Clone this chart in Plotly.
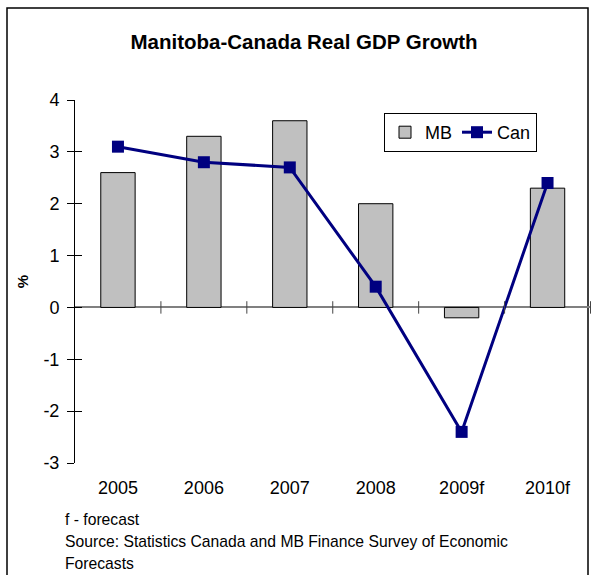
import plotly.graph_objects as go

years = ["2005", "2006", "2007", "2008", "2009f", "2010f"]
mb = [2.6, 3.3, 3.6, 2.0, -0.2, 2.3]
can = [3.1, 2.8, 2.7, 0.4, -2.4, 2.4]
y_ticks = [-3, -2, -1, 0, 1, 2, 3, 4]
y_labels = [str(v) for v in y_ticks]

W, H = 592, 575
L, R, T, B = 75, 1, 100, 112
pw, ph = W - L - R, H - T - B


def px_x(p):
    return (p - L) / pw


def px_y(p):
    return (H - B - p) / ph


fig = go.Figure()

fig.add_trace(go.Bar(x=years, y=mb, name="MB", marker_color="#C0C0C0",
                     marker_line=dict(color="black", width=1)))

# tick marks on the zero line at category boundaries (drawn under the line)
for k in range(1, len(years) + 1):
    xb = k - 0.5
    fig.add_shape(type="line", xref="x", yref="y", x0=xb, x1=xb, y0=-0.12, y1=0.12,
                  line=dict(color="#444444", width=1))

fig.add_trace(go.Scatter(x=years, y=can, name="Can", mode="lines+markers",
                         line=dict(color="#000080", width=3),
                         marker=dict(symbol="square", size=12, color="#000080")))

# ticks crossing the y axis (outside + inside)
fig.add_trace(go.Scatter(x=years, y=[None] * len(years), yaxis="y2", showlegend=False,
                         hoverinfo="skip"))

fig.update_layout(
    width=W, height=H,
    margin=dict(l=L, r=R, t=T, b=B, autoexpand=False),
    paper_bgcolor="white", plot_bgcolor="white",
    font=dict(family="Liberation Sans, Arial", size=18, color="black"),
    title=dict(text="<b>Manitoba-Canada Real GDP Growth</b>", x=304 / W, xanchor="center",
               y=1 - 42 / H, yanchor="middle", font=dict(size=20.5)),
    bargap=0.6,
    showlegend=True,
    legend=dict(orientation="h", x=px_x(384), y=px_y(113), xanchor="left", yanchor="top",
                bordercolor="black", borderwidth=1, bgcolor="white",
                font=dict(size=18), itemwidth=30, tracegroupgap=0),
    xaxis=dict(showgrid=False, showline=False, ticks="", ticklabelstandoff=12,
               tickfont=dict(size=18), automargin=False),
    yaxis=dict(range=[-3, 4], tickvals=y_ticks, ticktext=y_labels, showgrid=False,
               showline=True, linecolor="black", linewidth=1, ticks="outside", ticklen=7,
               tickcolor="black", ticklabelstandoff=4, automargin=False,
               zeroline=True, zerolinecolor="#808080", zerolinewidth=1.5,
               title=dict(text="<b>%</b>", standoff=11, font=dict(size=15))),
    yaxis2=dict(range=[-3, 4], tickvals=y_ticks, overlaying="y", side="left",
                showgrid=False, zeroline=False, showline=False, ticks="inside",
                ticklen=7, tickcolor="black", showticklabels=False, automargin=False),
)

# chart border
fig.add_shape(type="rect", xref="paper", yref="paper",
              x0=px_x(7), x1=px_x(588), y0=px_y(H + 20), y1=px_y(8),
              line=dict(color="black", width=1.5), layer="below")

notes = ["f - forecast", "Source: Statistics Canada and MB Finance Survey of Economic",
         "Forecasts"]
for i, t in enumerate(notes):
    fig.add_annotation(text=t, xref="paper", yref="paper", x=px_x(63), y=px_y(519 + 22 * i),
                       xanchor="left", yanchor="middle", showarrow=False,
                       font=dict(size=15.7))

fig.write_html("out.html", config={"displayModeBar": False},
               post_script="document.body.style.margin='0';")
